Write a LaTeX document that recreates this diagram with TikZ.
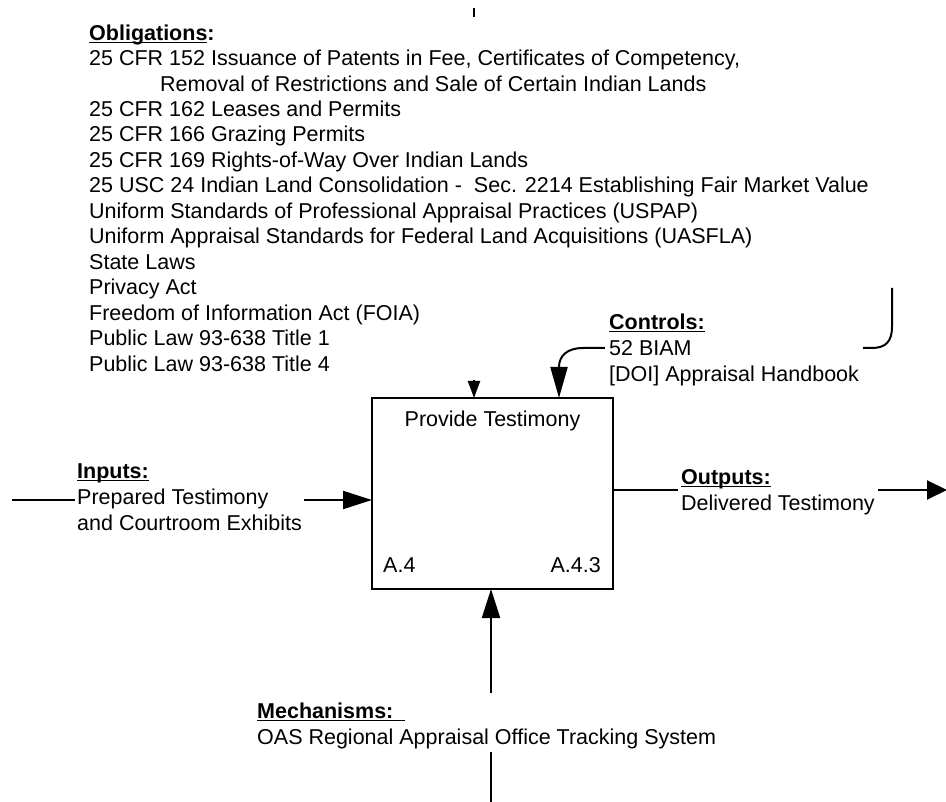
\documentclass[tikz,border=0pt]{standalone}
\usepackage{fontspec}
\setmainfont{Liberation Sans}
\usetikzlibrary{arrows.meta}
% bold heading with a thick underline just below the baseline
\newcommand\hd[1]{\setbox0\hbox{\bfseries #1}\rlap{\rule[-3.2pt]{\wd0}{1.6pt}}\box0}
% invisible struts that set the top and bottom of a label's white area
\newcommand\up[1]{\rule{0pt}{#1}}
\newcommand\dn[1]{\rule[-#1]{0pt}{#1}}
\newcommand\fnt[1]{\fontsize{21.5pt}{#1}\selectfont}
\begin{document}
\begin{tikzpicture}[x=1pt,y=-1pt,
  conn/.style={line width=2pt},
  bighead/.style={-{Triangle[length=29pt,width=18pt]}},
  smallhead/.style={-{Triangle[length=17pt,width=12pt]}},
  ctlhead/.style={-{Triangle[length=31pt,width=17pt]}},
  outhead/.style={-{Triangle[length=20pt,width=19pt]}},
  lbl/.style={fill=white, inner ysep=0pt, anchor=north west, align=left},
  inlbl/.style={inner sep=0pt, font=\fnt{26pt}}
]
\useasboundingbox (0,0) rectangle (946,802);

% activity box
\node[draw, line width=2.4pt, minimum width=241pt, minimum height=191pt,
      inner sep=0pt, outer sep=0pt] (box) at (492.5,493.5) {};

% obligations arrow, mostly hidden behind its list
\coordinate (oblTop) at (474,8);
\draw[conn, smallhead] (oblTop) -- (oblTop |- box.north);
\node[lbl, inner xsep=0pt, font=\fnt{25.45pt}] (obl) at (89,17)
 {\up{23pt}\hd{Obligations}\textbf{:}\\
  25 CFR 152 Issuance of Patents in Fee, Certificates of Competency,\\
  \hspace*{71pt}Removal of Restrictions and Sale of Certain Indian Lands\\
  25 CFR 162 Leases and Permits\\
  25 CFR 166 Grazing Permits\\
  25 CFR 169 Rights-of-Way Over Indian Lands\\
  25 USC 24 Indian Land Consolidation -\ \ Sec. 2214 Establishing Fair Market Value\\
  Uniform Standards of Professional Appraisal Practices (USPAP)\\
  Uniform Appraisal Standards for Federal Land Acquisitions (UASFLA)\\
  State Laws\\
  Privacy Act\\
  Freedom of Information Act (FOIA)\\
  Public Law 93-638 Title 1\\
  Public Law 93-638 Title 4\dn{9pt}};

% controls arrow
\coordinate (ctlTop) at (892,288);
\coordinate (ctlIn) at (559,0);
\draw[conn, ctlhead] (ctlTop) -- (892,327) .. controls (892,341) and (886,348) .. (872,348)
  -- (583,348) .. controls (567,348) and (559,356) .. (559,367) -- (ctlIn |- box.north);
\node[lbl, inner xsep=4pt, font=\fnt{26pt}] (ctl) at (605,310)
 {\up{19pt}\hd{Controls:}\\
  52 BIAM\\{}[DOI] Appraisal Handbook\dn{6pt}};

% inputs arrow
\coordinate (inL) at (12,500);
\draw[conn, bighead] (inL) -- (inL -| box.west);
\node[lbl, inner xsep=2pt, font=\fnt{26pt}] (inp) at (75,458)
 {\up{20pt}\hd{Inputs:}\\
  Prepared Testimony\\
  and Courtroom Exhibits\dn{7pt}};

% outputs arrow
\coordinate (outR) at (947,490);
\draw[conn, outhead] (outR -| box.east) -- (outR);
\node[lbl, inner xsep=3pt, font=\fnt{26pt}] (outp) at (678,464)
 {\up{20pt}\hd{Outputs:}\\
  Delivered Testimony\dn{7pt}};

% mechanisms arrow
\coordinate (mechB) at (491,802);
\draw[conn, bighead] (mechB) -- (mechB |- box.south);
\node[lbl, inner xsep=2pt, font=\fnt{26.5pt}] (mech) at (255,693)
 {\up{25pt}\hd{Mechanisms:\ \ }\\
  OAS Regional Appraisal Office Tracking System\dn{7.5pt}};

% box labels
\node[inlbl, anchor=base] (title) at (492.5,427) {Provide Testimony};
\node[inlbl, anchor=base west] (nodeid) at (383,572) {A.4};
\node[inlbl, anchor=base east] (diagid) at (601,572) {A.4.3};
\end{tikzpicture}
\end{document}
